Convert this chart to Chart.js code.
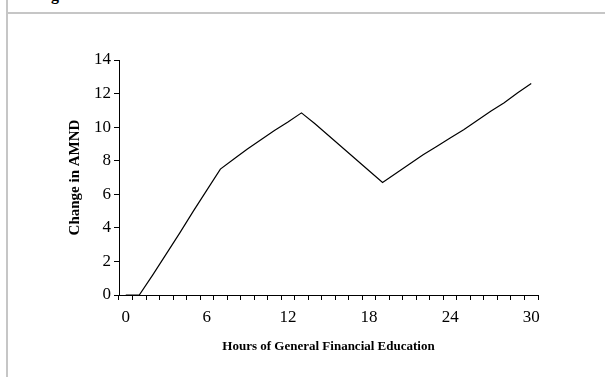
<!DOCTYPE html>
<html lang="en">
<head>
    <script src="https://cdn.jsdelivr.net/npm/chart.js"></script>
    <style>
        body { margin: 0; background: #fff; }
        #wrap { position: relative; width: 605px; height: 377px; overflow: hidden; }
        #frameLeft { position: absolute; left: 6px; top: 0; width: 2px; height: 377px; background: #c6c6c6; }
        #frameTop { position: absolute; left: 6px; top: 12px; width: 599px; height: 2px; background: #c6c6c6; }
        #cut { position: absolute; left: 51px; top: -13px; font: bold 16px "Liberation Serif", serif; line-height: 16px; color: #000; }
        #chartBox { position: absolute; left: 0; top: 0; width: 605px; height: 377px; }
    </style>
</head>

<body>
<div id="wrap">
    <div id="frameLeft"></div>
    <div id="frameTop"></div>
    <div id="cut">g</div>
    <div id="chartBox"><canvas id="hoursChart" width="605" height="377"></canvas></div>
</div>

<script>
    // hours of general financial education (categories 0..30)
    const hours = [0, 1, 2, 3, 4, 5, 6, 7, 8, 9, 10, 11, 12, 13, 14, 15, 16, 17, 18, 19, 20,
                   21, 22, 23, 24, 25, 26, 27, 28, 29, 30];
    // change in AMND
    const amndChange = [0, 0, 1.2, 2.45, 3.7, 5.0, 6.25, 7.5, 8.1, 8.7, 9.25, 9.8, 10.3, 10.85,
                        10.2, 9.5, 8.8, 8.1, 7.4, 6.7, 7.25, 7.8, 8.35, 8.85, 9.35, 9.85,
                        10.4, 10.95, 11.45, 12.05, 12.6];
    const yTicks = [0, 2, 4, 6, 8, 10, 12, 14];
    const labelEvery = 6;

    const serif = '"Liberation Serif", "Times New Roman", serif';

    const ctx = document.getElementById('hoursChart').getContext('2d');
    const chart = new Chart(ctx, {
        type: 'line',
        data: {
            labels: hours,
            datasets: [{
                data: amndChange,
                borderColor: '#000',
                borderWidth: 1.2,
                pointRadius: 0,
                tension: 0,
                fill: false
            }]
        },
        options: {
            responsive: false,
            animation: false,
            layout: { padding: { left: 60, right: 67, top: 60, bottom: 10 } },
            plugins: {
                legend: { display: false },
                tooltip: { enabled: false }
            },
            scales: {
                x: {
                    type: 'category',
                    offset: true,
                    afterFit: s => { s.height = 72; },
                    grid: {
                        offset: true,
                        drawOnChartArea: false,
                        drawTicks: true,
                        tickLength: 5,
                        color: '#000'
                    },
                    border: { color: '#000', width: 1 },
                    ticks: {
                        autoSkip: false,
                        maxRotation: 0,
                        padding: 7,
                        color: '#000',
                        font: { family: serif, size: 17 },
                        callback: function (val, i) {
                            return i % labelEvery === 0 ? String(hours[i]) : '';
                        }
                    },
                    title: {
                        display: true,
                        text: 'Hours of General Financial Education',
                        color: '#000',
                        font: { family: serif, size: 13, weight: 'bold' },
                        padding: { top: 0, bottom: 13 }
                    }
                },
                y: {
                    min: yTicks[0],
                    max: yTicks[yTicks.length - 1],
                    afterFit: s => { s.width = 59; },
                    afterBuildTicks: s => { s.ticks = yTicks.map(v => ({ value: v })); },
                    grid: {
                        drawOnChartArea: false,
                        tickLength: 5,
                        color: '#000'
                    },
                    border: { color: '#000', width: 1 },
                    ticks: {
                        padding: 3,
                        color: '#000',
                        font: { family: serif, size: 17 }
                    },
                    title: {
                        display: true,
                        text: 'Change in AMND',
                        color: '#000',
                        font: { family: serif, size: 15, weight: 'bold' },
                        padding: { top: 6, bottom: 0 }
                    }
                }
            }
        }
    });
</script>
</body>
</html>
